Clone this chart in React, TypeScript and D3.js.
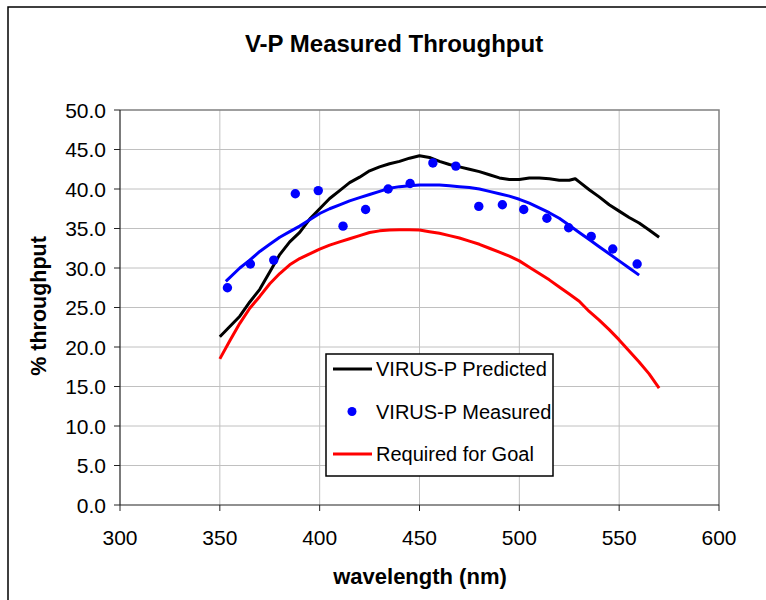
import * as d3 from 'd3';

const predWl = [350, 355, 360, 365, 370, 375, 380, 385, 390, 395, 400, 405, 410, 415, 420, 425, 430, 435, 440, 445, 450, 455, 460, 465, 470, 475, 480, 485, 490, 495, 500, 505, 510, 515, 520, 525, 528, 530, 535, 540, 545, 550, 555, 560, 565, 570];
const predVal = [21.3, 22.6, 23.9, 25.7, 27.3, 29.5, 31.7, 33.3, 34.5, 36.2, 37.5, 38.8, 39.8, 40.8, 41.5, 42.3, 42.8, 43.2, 43.5, 43.9, 44.2, 44.0, 43.5, 43.1, 42.8, 42.5, 42.2, 41.8, 41.4, 41.2, 41.2, 41.4, 41.4, 41.3, 41.1, 41.1, 41.3, 40.9, 39.9, 39.0, 38.0, 37.2, 36.4, 35.7, 34.8, 33.9];

const fitWl = [353, 360, 365, 370, 375, 380, 385, 390, 395, 400, 405, 410, 415, 420, 425, 430, 435, 440, 445, 450, 455, 460, 465, 470, 475, 480, 485, 490, 495, 500, 505, 510, 515, 520, 525, 530, 535, 540, 545, 550, 555, 560];
const fitVal = [28.3, 30.0, 31.0, 32.1, 33.0, 33.9, 34.6, 35.3, 36.1, 36.9, 37.5, 38.0, 38.5, 38.9, 39.3, 39.7, 40.1, 40.3, 40.4, 40.5, 40.5, 40.5, 40.4, 40.3, 40.2, 40.0, 39.7, 39.4, 39.1, 38.7, 38.2, 37.6, 37.0, 36.3, 35.4, 34.5, 33.6, 32.7, 31.8, 30.9, 30.0, 29.1];

const measWl = [353.8, 365.3, 377, 387.8, 399.3, 411.7, 423, 434.3, 445.3, 456.7, 468.2, 479.7, 491.5, 502.2, 513.8, 524.7, 536, 546.8, 559];
const measVal = [27.5, 30.5, 31.0, 39.4, 39.8, 35.3, 37.4, 40.0, 40.7, 43.3, 42.9, 37.8, 38.0, 37.4, 36.3, 35.1, 34.0, 32.4, 30.5];

const goalWl = [350, 355, 360, 365, 370, 375, 380, 385, 390, 395, 400, 405, 410, 415, 420, 425, 430, 435, 440, 445, 450, 455, 460, 465, 470, 475, 480, 485, 490, 495, 500, 505, 510, 515, 520, 525, 530, 535, 540, 545, 550, 555, 560, 565, 570];
const goalVal = [18.5, 20.8, 23.0, 24.9, 26.4, 28.0, 29.3, 30.4, 31.2, 31.8, 32.4, 32.9, 33.3, 33.7, 34.1, 34.5, 34.7, 34.8, 34.85, 34.85, 34.8, 34.6, 34.4, 34.1, 33.8, 33.4, 33.0, 32.5, 32.0, 31.5, 30.9, 30.1, 29.3, 28.5, 27.6, 26.7, 25.8, 24.5, 23.4, 22.2, 20.9, 19.5, 18.1, 16.6, 14.8];

const xTicks = [300, 350, 400, 450, 500, 550, 600];
const yTicks = [0, 5, 10, 15, 20, 25, 30, 35, 40, 45, 50];

const legendLabels = ['VIRUS-P Predicted', 'VIRUS-P Measured', 'Required for Goal'];

const W = 766;
const H = 600;
const font = "'Liberation Sans', Arial, sans-serif";

export default function App() {
  const x = d3.scaleLinear().domain([300, 600]).range([120, 719]);
  const y = d3.scaleLinear().domain([0, 50]).range([505, 110]);

  const line = d3
    .line<[number, number]>()
    .x((d) => x(d[0]))
    .y((d) => y(d[1]));

  const pred = line(predWl.map((w, i) => [w, predVal[i]]) as [number, number][]) ?? '';
  const fit = line(fitWl.map((w, i) => [w, fitVal[i]]) as [number, number][]) ?? '';
  const goal = line(goalWl.map((w, i) => [w, goalVal[i]]) as [number, number][]) ?? '';

  const [x0, x1] = x.range();
  const [y0, y1] = y.range();

  const legX = 326;
  const legY = 354;
  const legRows = [369, 411.5, 454];

  return (
    <svg
      width={W}
      height={H}
      style={{ position: 'absolute', left: 0, top: 0, background: '#fff' }}
      fontFamily={font}
    >
      <rect x={0} y={0} width={W} height={H} fill="#fff" />
      {/* outer chart frame */}
      <path d={`M8,${H}V7H${W}`} fill="none" stroke="#000" strokeWidth={1.5} />

      <text x={394} y={43} dy="0.36em" textAnchor="middle" fontSize={24} fontWeight="bold">
        V-P Measured Throughput
      </text>

      {/* grid */}
      {xTicks.slice(1, -1).map((t) => (
        <line key={'gx' + t} x1={x(t)} x2={x(t)} y1={y1} y2={y0} stroke="#c0c0c0" strokeWidth={1} />
      ))}
      {yTicks.slice(1, -1).map((t) => (
        <line key={'gy' + t} x1={x0} x2={x1} y1={y(t)} y2={y(t)} stroke="#c0c0c0" strokeWidth={1} />
      ))}
      {/* plot frame top/right */}
      <path d={`M${x0},${y1}H${x1}V${y0}`} fill="none" stroke="#808080" strokeWidth={1.5} />

      {/* axes */}
      <line x1={x0} x2={x0} y1={y1} y2={y0} stroke="#222" strokeWidth={1.2} />
      <line x1={x0} x2={x1} y1={y0} y2={y0} stroke="#222" strokeWidth={1.2} />
      {yTicks.map((t) => (
        <g key={'yt' + t}>
          <line x1={x0 - 6} x2={x0} y1={y(t)} y2={y(t)} stroke="#222" strokeWidth={1} />
          <text x={106} y={y(t)} dy="0.36em" textAnchor="end" fontSize={21}>
            {t.toFixed(1)}
          </text>
        </g>
      ))}
      {xTicks.map((t) => (
        <g key={'xt' + t}>
          <line x1={x(t)} x2={x(t)} y1={y0} y2={y0 + 6} stroke="#222" strokeWidth={1} />
          <text x={x(t)} y={537} dy="0.36em" textAnchor="middle" fontSize={21}>
            {t}
          </text>
        </g>
      ))}

      <text x={420} y={576} dy="0.36em" textAnchor="middle" fontSize={22} fontWeight="bold">
        wavelength (nm)
      </text>
      <text
        transform="translate(38,306) rotate(-90)"
        dy="0.36em"
        textAnchor="middle"
        fontSize={21.5}
        fontWeight="bold"
      >
        % throughput
      </text>

      {/* series */}
      <path d={goal} fill="none" stroke="#ff0000" strokeWidth={3} strokeLinejoin="round" />
      <path d={pred} fill="none" stroke="#000" strokeWidth={3} strokeLinejoin="round" />
      <path d={fit} fill="none" stroke="#0000ff" strokeWidth={3} strokeLinejoin="round" />
      {measWl.map((w, i) => (
        <circle key={'m' + i} cx={x(w)} cy={y(measVal[i])} r={4.7} fill="#0000ff" />
      ))}

      {/* legend */}
      <rect x={legX} y={legY} width={227} height={122} fill="#fff" stroke="#000" strokeWidth={1.5} />
      <line x1={333} x2={372} y1={legRows[0]} y2={legRows[0]} stroke="#000" strokeWidth={3} />
      <circle cx={352} cy={legRows[1]} r={4.5} fill="#0000ff" />
      <line x1={333} x2={372} y1={legRows[2]} y2={legRows[2]} stroke="#ff0000" strokeWidth={3} />
      {legendLabels.map((l, i) => (
        <text key={l} x={376} y={legRows[i]} dy="0.36em" fontSize={20}>
          {l}
        </text>
      ))}
    </svg>
  );
}
